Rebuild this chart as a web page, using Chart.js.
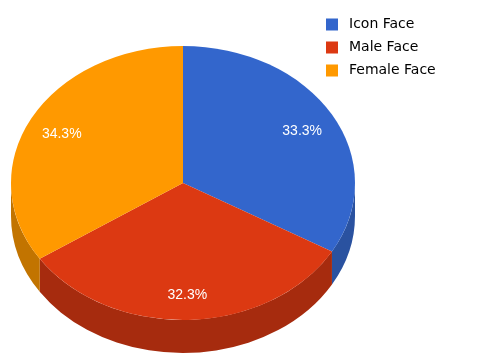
<!DOCTYPE html>
<html>
<head>
<meta charset="utf-8">
<script src="https://cdn.jsdelivr.net/npm/chart.js@4/dist/chart.umd.min.js"></script>
<style>
  html, body { margin: 0; padding: 0; background: #fff; }
</style>
</head>
<body>
<canvas id="chart" width="487" height="355"></canvas>
<script>
const labels = ["Icon Face", "Male Face", "Female Face"];
const values = [33.3, 32.3, 34.3];
const topColors = ["#3366cc", "#dc3912", "#ff9900"];
const sideColors = ["#2a52a0", "#a62b0e", "#c27400"];

// ellipse the pie is projected into (the "3D" tilt)
const CX = 183, CY = 183, RX = 172, RY = 137, DEPTH = 33;

function tilt(ctx, arc) {
  const r = arc.outerRadius;
  ctx.translate(CX, CY);
  ctx.scale(RX / r, RY / r);
  ctx.translate(-arc.x, -arc.y);
}

const pie3d = {
  id: "pie3d",
  beforeDatasetsDraw(chart) {
    const ctx = chart.ctx;
    const arcs = chart.getDatasetMeta(0).data;
    const first = arcs[0];
    const off = DEPTH * first.outerRadius / RY;
    ctx.save();
    tilt(ctx, first);
    // side walls, only the front half is visible
    arcs.forEach((arc, i) => {
      const s = Math.max(arc.startAngle, 0);
      const e = Math.min(arc.endAngle, Math.PI);
      if (s >= e) return;
      ctx.beginPath();
      ctx.arc(arc.x, arc.y, arc.outerRadius, s, e);
      ctx.arc(arc.x, arc.y + off, arc.outerRadius, e, s, true);
      ctx.closePath();
      ctx.fillStyle = sideColors[i];
      ctx.fill();
    });
  },
  afterDatasetsDraw(chart) {
    const ctx = chart.ctx;
    ctx.restore();
    const arcs = chart.getDatasetMeta(0).data;
    ctx.save();
    ctx.font = "14px 'Liberation Sans', Arial, sans-serif";
    ctx.fillStyle = "#ffffff";
    ctx.textAlign = "center";
    ctx.textBaseline = "middle";
    arcs.forEach((arc, i) => {
      const mid = (arc.startAngle + arc.endAngle) / 2;
      const x = CX + RX * 0.8 * Math.cos(mid);
      const y = CY + RY * 0.8 * Math.sin(mid) + 3;
      ctx.fillText(values[i].toFixed(1) + "%", x, y);
    });
    ctx.restore();
  },
  afterDraw(chart) {
    // legend, top right
    const ctx = chart.ctx;
    ctx.save();
    ctx.font = "14px 'DejaVu Sans', Verdana, sans-serif";
    ctx.textBaseline = "middle";
    labels.forEach((label, i) => {
      const y = 24.5 + i * 23;
      ctx.fillStyle = topColors[i];
      ctx.fillRect(326, y - 6, 12, 12);
      ctx.fillStyle = "#000000";
      ctx.fillText(label, 349, y);
    });
    ctx.restore();
  }
};

new Chart(document.getElementById("chart"), {
  type: "pie",
  data: {
    labels: labels,
    datasets: [{
      data: values,
      backgroundColor: topColors,
      borderWidth: 0
    }]
  },
  options: {
    responsive: false,
    animation: false,
    layout: { padding: { left: 11, right: 132, top: 6, bottom: 5 } },
    plugins: {
      legend: { display: false },
      tooltip: { enabled: false }
    }
  },
  plugins: [pie3d]
});
</script>
</body>
</html>
